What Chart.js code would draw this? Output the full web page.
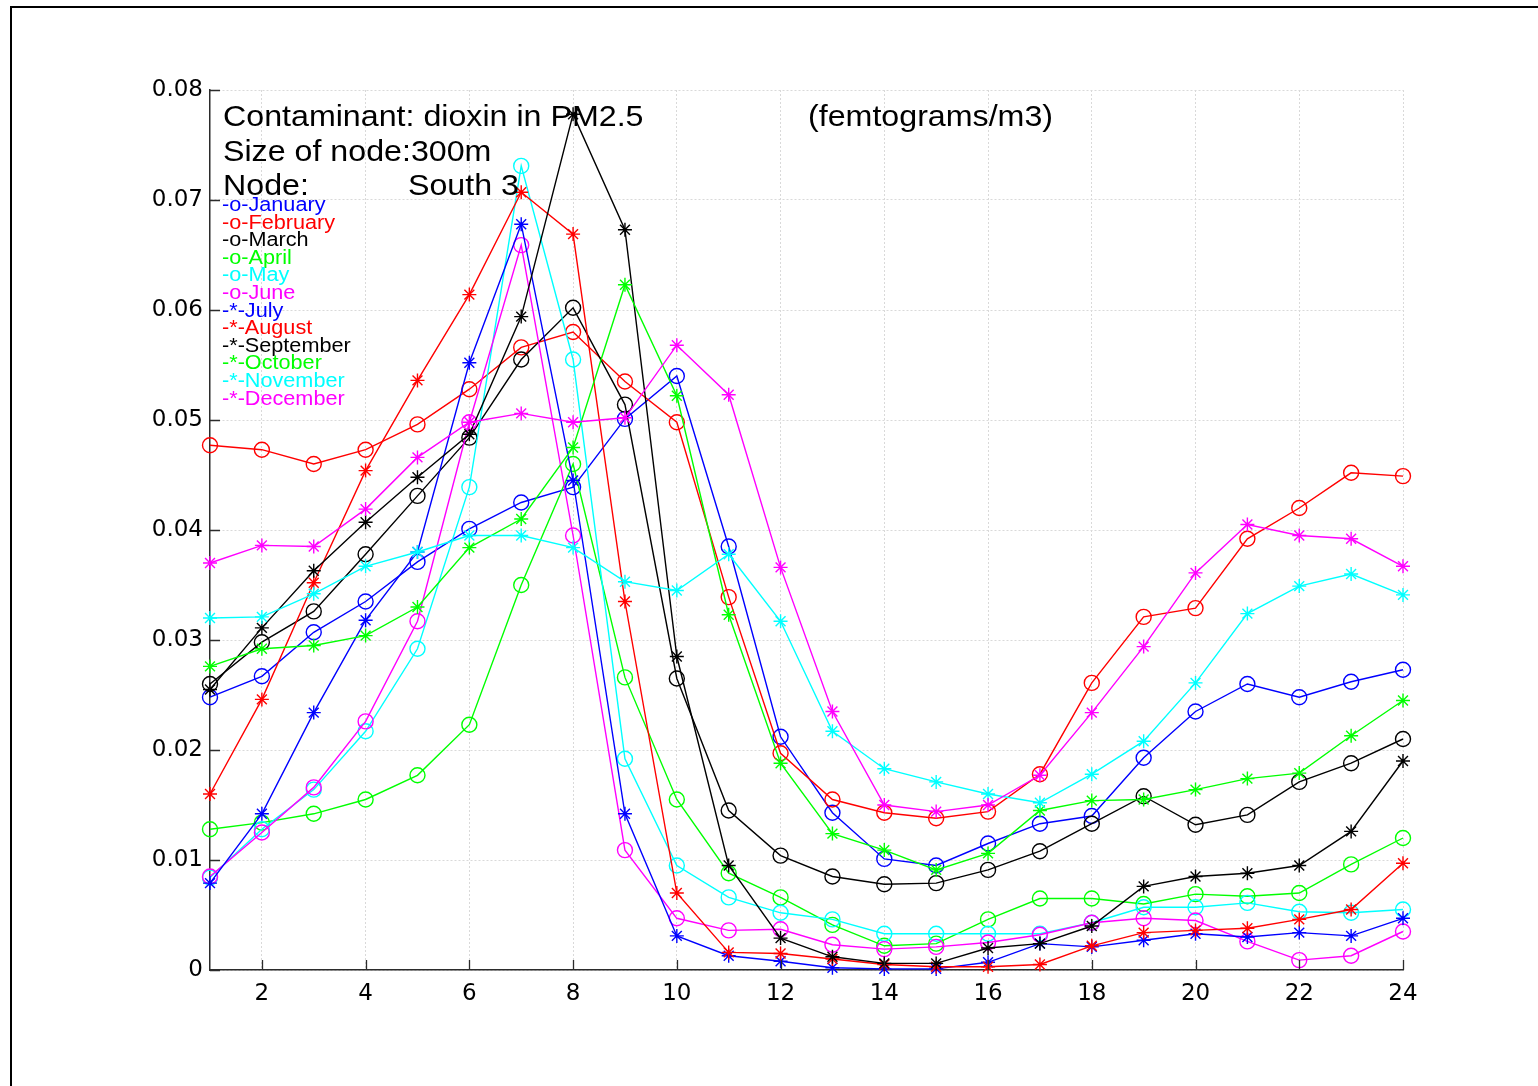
<!DOCTYPE html>
<html>
<head>
<meta charset="utf-8">
<title>Contaminant: dioxin in PM2.5 — South 3</title>
<script src="https://cdn.jsdelivr.net/npm/chart.js@4.4.1/dist/chart.umd.min.js"></script>
<style>
  html, body { margin: 0; padding: 0; background: #ffffff; }
  canvas { display: block; }
</style>
</head>
<body>
<canvas id="c" width="1538" height="1086"></canvas>
<script>
// Hour of day (x axis)
const hours = [1, 2, 3, 4, 5, 6, 7, 8, 9, 10, 11, 12, 13, 14, 15, 16, 17, 18, 19, 20, 21, 22, 23, 24];

// Monthly hourly concentrations (femtograms/m3)
const january   = [0.0248, 0.0267, 0.0307, 0.0335, 0.0371, 0.0401, 0.0425, 0.0439, 0.0501, 0.0540, 0.0385, 0.0212, 0.0143, 0.0101, 0.0095, 0.0115, 0.0133, 0.0140, 0.0193, 0.0235, 0.0260, 0.0248, 0.0262, 0.0273];
const february  = [0.0477, 0.0473, 0.0460, 0.0473, 0.0496, 0.0528, 0.0566, 0.0580, 0.0535, 0.0498, 0.0339, 0.0197, 0.0155, 0.0143, 0.0138, 0.0144, 0.0178, 0.0261, 0.0321, 0.0329, 0.0392, 0.0420, 0.0452, 0.0449];
const march     = [0.0260, 0.0298, 0.0326, 0.0378, 0.0431, 0.0484, 0.0555, 0.0602, 0.0514, 0.0265, 0.0145, 0.0104, 0.0085, 0.0078, 0.0079, 0.0091, 0.0108, 0.0133, 0.0158, 0.0132, 0.0141, 0.0171, 0.0188, 0.0210];
const april     = [0.0128, 0.0134, 0.0142, 0.0155, 0.0177, 0.0223, 0.0350, 0.0460, 0.0266, 0.0155, 0.0088, 0.0066, 0.0041, 0.0022, 0.0024, 0.0046, 0.0065, 0.0065, 0.0060, 0.0069, 0.0067, 0.0070, 0.0096, 0.0120];
const may       = [0.0084, 0.0128, 0.0164, 0.0217, 0.0292, 0.0439, 0.0731, 0.0555, 0.0192, 0.0095, 0.0066, 0.0052, 0.0046, 0.0033, 0.0033, 0.0033, 0.0033, 0.0043, 0.0057, 0.0057, 0.0061, 0.0053, 0.0052, 0.0055];
const june      = [0.0085, 0.0125, 0.0166, 0.0226, 0.0317, 0.0498, 0.0659, 0.0395, 0.0109, 0.0047, 0.0036, 0.0037, 0.0023, 0.0019, 0.0021, 0.0025, 0.0032, 0.0043, 0.0047, 0.0045, 0.0026, 0.0009, 0.0013, 0.0035];
const july      = [0.0079, 0.0142, 0.0234, 0.0318, 0.0380, 0.0552, 0.0678, 0.0445, 0.0142, 0.0031, 0.0013, 0.0008, 0.0002, 0.0001, 0.0001, 0.0007, 0.0024, 0.0021, 0.0027, 0.0033, 0.0030, 0.0034, 0.0031, 0.0047];
const august    = [0.0160, 0.0246, 0.0352, 0.0454, 0.0536, 0.0614, 0.0707, 0.0669, 0.0335, 0.0070, 0.0016, 0.0015, 0.0010, 0.0005, 0.0003, 0.0003, 0.0005, 0.0022, 0.0034, 0.0036, 0.0038, 0.0046, 0.0055, 0.0097];
const september = [0.0255, 0.0311, 0.0363, 0.0407, 0.0448, 0.0487, 0.0594, 0.0778, 0.0673, 0.0285, 0.0095, 0.0029, 0.0012, 0.0006, 0.0006, 0.0020, 0.0024, 0.0040, 0.0076, 0.0085, 0.0088, 0.0095, 0.0126, 0.0190];
const october   = [0.0276, 0.0292, 0.0295, 0.0304, 0.0330, 0.0384, 0.0410, 0.0475, 0.0623, 0.0522, 0.0323, 0.0188, 0.0124, 0.0109, 0.0091, 0.0106, 0.0145, 0.0154, 0.0155, 0.0164, 0.0174, 0.0179, 0.0213, 0.0245];
const november  = [0.0320, 0.0321, 0.0342, 0.0367, 0.0380, 0.0395, 0.0395, 0.0384, 0.0353, 0.0345, 0.0378, 0.0317, 0.0217, 0.0183, 0.0171, 0.0160, 0.0152, 0.0178, 0.0208, 0.0261, 0.0324, 0.0349, 0.0360, 0.0341];
const december  = [0.0370, 0.0386, 0.0385, 0.0419, 0.0466, 0.0498, 0.0506, 0.0498, 0.0502, 0.0568, 0.0523, 0.0366, 0.0235, 0.0150, 0.0144, 0.0150, 0.0177, 0.0234, 0.0294, 0.0361, 0.0405, 0.0395, 0.0392, 0.0367];

// Series names, shown as line-style legend entries
const seriesNames = ['January', 'February', 'March', 'April', 'May', 'June',
                     'July', 'August', 'September', 'October', 'November', 'December'];
const seriesValues = [january, february, march, april, may, june,
                      july, august, september, october, november, december];

// Axis ticks
const xTicks = [2, 4, 6, 8, 10, 12, 14, 16, 18, 20, 22, 24];
const xTickLabels = ['2', '4', '6', '8', '10', '12', '14', '16', '18', '20', '22', '24'];
const yTicks = [0, 0.01, 0.02, 0.03, 0.04, 0.05, 0.06, 0.07, 0.08];
const yTickLabels = ['0', '0.01', '0.02', '0.03', '0.04', '0.05', '0.06', '0.07', '0.08'];

// Annotation texts
const titleLine1 = 'Contaminant: dioxin in PM2.5';
const unitsText = '(femtograms/m3)';
const titleLine2 = 'Size of node:300m';
const nodeLabel = 'Node:';
const nodeName = 'South 3';

const palette = ['#0000ff', '#ff0000', '#000000', '#00ff00', '#00ffff', '#ff00ff'];
const FONT = '"Liberation Sans", Arial, Helvetica, sans-serif';
const TICK_FONT = '"DejaVu Sans", "Liberation Sans", Arial, sans-serif';
const AXIS_COLOR = '#2b2b2b';

const datasets = seriesValues.map((vals, i) => {
  const isStar = i >= 6;
  const color = palette[i % 6];
  return {
    label: seriesNames[i],
    data: hours.map((h, k) => ({ x: h, y: vals[k] })),
    borderColor: color,
    borderWidth: 1.4,
    tension: 0,
    fill: false,
    pointStyle: isStar ? 'star' : 'circle',
    pointRadius: isStar ? 7 : 7.5,
    pointHoverRadius: isStar ? 7 : 7.5,
    pointBorderColor: color,
    pointBackgroundColor: 'rgba(0,0,0,0)',
    pointBorderWidth: 1.4,
    clip: false,
    order: 12 - i
  };
});

function wideText(ctx, txt, x, y, size, color) {
  ctx.save();
  ctx.font = size + 'px ' + FONT;
  ctx.fillStyle = color;
  ctx.textBaseline = 'alphabetic';
  ctx.textAlign = 'left';
  ctx.translate(x, y);
  ctx.scale(1.11, 1);
  ctx.fillText(txt, 0, 0);
  ctx.restore();
}

const framePlugin = {
  id: 'frame',
  beforeDraw(chart) {
    const ctx = chart.ctx;
    ctx.save();
    ctx.fillStyle = '#ffffff';
    ctx.fillRect(0, 0, chart.width, chart.height);
    ctx.fillStyle = '#000000';
    ctx.fillRect(10, 6, chart.width - 10, 2);
    ctx.fillRect(10, 6, 2, chart.height - 6);
    ctx.restore();
  }
};

// Inward-pointing tick marks on the left and bottom axes
const innerTicksPlugin = {
  id: 'innerTicks',
  afterDatasetsDraw(chart) {
    const ctx = chart.ctx;
    const a = chart.chartArea;
    const xs = chart.scales.x, ys = chart.scales.y;
    ctx.save();
    ctx.strokeStyle = AXIS_COLOR;
    ctx.lineWidth = 1.3;
    ctx.beginPath();
    xTicks.forEach(v => {
      const px = Math.round(xs.getPixelForValue(v)) + 0.5;
      ctx.moveTo(px, a.bottom);
      ctx.lineTo(px, a.bottom - 10);
    });
    yTicks.forEach(v => {
      const py = Math.round(ys.getPixelForValue(v)) + 0.5;
      ctx.moveTo(a.left, py);
      ctx.lineTo(a.left + 10, py);
    });
    ctx.stroke();
    ctx.restore();
  }
};

const annotationPlugin = {
  id: 'annotations',
  afterDraw(chart) {
    const ctx = chart.ctx;
    wideText(ctx, titleLine1, 223, 126, 29, '#000000');
    wideText(ctx, unitsText, 808, 126, 29, '#000000');
    wideText(ctx, titleLine2, 223, 161, 29, '#000000');
    wideText(ctx, nodeLabel, 223, 195, 29, '#000000');
    wideText(ctx, nodeName, 408, 195, 29, '#000000');
    seriesNames.forEach((name, i) => {
      const marker = i >= 6 ? '*' : 'o';
      wideText(ctx, '-' + marker + '-' + name, 222, 211 + i * 17.6, 19.5, palette[i % 6]);
    });
  }
};

new Chart(document.getElementById('c'), {
  type: 'line',
  data: { datasets },
  options: {
    responsive: false,
    animation: false,
    events: [],
    layout: { padding: { left: 0, top: 90, right: 135, bottom: 0 } },
    plugins: {
      legend: { display: false },
      tooltip: { enabled: false },
      title: { display: false }
    },
    scales: {
      x: {
        type: 'linear',
        min: 1,
        max: 24,
        afterBuildTicks: s => { s.ticks = xTicks.map(v => ({ value: v })); },
        afterFit: s => { s.height = 116; },
        ticks: {
          autoSkip: false,
          maxRotation: 0,
          padding: 10,
          color: '#000000',
          font: { family: TICK_FONT, size: 23 },
          callback: (v) => xTickLabels[xTicks.indexOf(v)]
        },
        grid: { color: '#d9d9d9', lineWidth: 1, drawTicks: false },
        border: { display: true, color: AXIS_COLOR, width: 1.5, dash: [2, 2] }
      },
      y: {
        type: 'linear',
        min: 0,
        max: 0.08,
        afterBuildTicks: s => { s.ticks = yTicks.map(v => ({ value: v })); },
        afterFit: s => { s.width = 210; },
        ticks: {
          autoSkip: false,
          padding: 7,
          color: '#000000',
          font: { family: TICK_FONT, size: 23 },
          callback: (v) => {
            const k = yTicks.findIndex(t => Math.abs(t - v) < 1e-9);
            return k >= 0 ? yTickLabels[k] : '';
          }
        },
        grid: { color: '#d9d9d9', lineWidth: 1, drawTicks: false },
        border: { display: true, color: AXIS_COLOR, width: 1.5, dash: [2, 2] }
      }
    }
  },
  plugins: [framePlugin, innerTicksPlugin, annotationPlugin]
});
</script>
</body>
</html>
